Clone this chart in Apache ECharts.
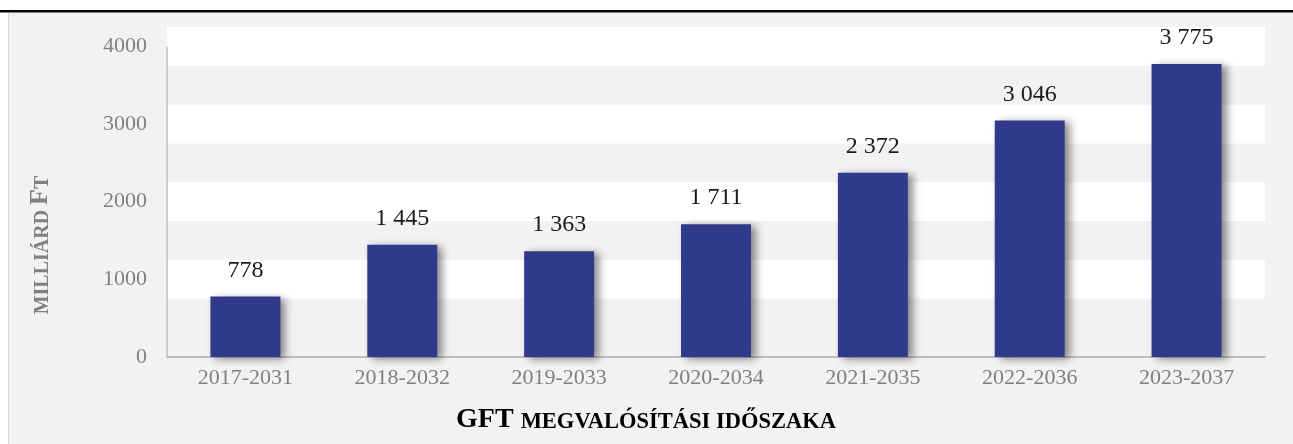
<!DOCTYPE html>
<html>
<head>
<meta charset="utf-8">
<script src="https://cdn.jsdelivr.net/npm/echarts@6/dist/echarts.min.js"></script>
<style>
html,body{margin:0;padding:0;background:#ffffff;}
#chart{width:1293px;height:444px;}
</style>
</head>
<body>
<div id="chart"></div>
<script>
var categories = ['2017-2031','2018-2032','2019-2033','2020-2034','2021-2035','2022-2036','2023-2037'];
var values = [778, 1445, 1363, 1711, 2372, 3046, 3775];
var yTicks = [0, 1000, 2000, 3000, 4000];
var yName = 'Milliárd Ft';
var xName = 'GFT megvalósítási időszaka';

function fmt(v){ return String(v).replace(/\B(?=(\d{3})+(?!\d))/g, ' '); }

// white bands centred on each non-zero gridline
var bands = yTicks.filter(function(t){return t>0;}).map(function(t){
  return [{yAxis: t - 250}, {yAxis: t + 250}];
});
var yTop = yTicks[yTicks.length-1];
// value-axis line runs from 0 to the top tick
var axisLineData = [[0, yTicks[0]], [0, yTop]];

var chart = echarts.init(document.getElementById('chart'), null, {renderer:'canvas'});
var serif = '"Liberation Serif", "DejaVu Serif", serif';

chart.setOption({
  animation: false,
  backgroundColor: 'transparent',
  graphic: [
    {type:'rect', z:-10, shape:{x:0,y:10,width:1293,height:2.5}, style:{fill:'#000000'}},
    {type:'rect', z:-10, shape:{x:8,y:13,width:1285,height:431}, style:{fill:'#f2f2f2'}},
    {type:'line', z:-9, shape:{x1:8.5,y1:13,x2:8.5,y2:444}, style:{stroke:'#d9d9d9', lineWidth:1}},
    {type:'text', z:10, x:40, y:245, rotation:Math.PI/2,
      style:{text:'{s|MILLIÁRD }{b|F}{s|T}', align:'center', verticalAlign:'middle',
        rich:{
          s:{fontFamily:serif, fontWeight:'bold', fontSize:20, fill:'#808080', verticalAlign:'bottom'},
          b:{fontFamily:serif, fontWeight:'bold', fontSize:26, fill:'#808080', verticalAlign:'bottom'}
        }}},
    {type:'text', z:10, x:646, y:420,
      style:{text:'{b|GFT }{s|MEGVALÓSÍTÁSI IDŐSZAKA}', align:'center', verticalAlign:'middle',
        rich:{
          s:{fontFamily:serif, fontWeight:'bold', fontSize:22.5, fill:'#000000', verticalAlign:'bottom'},
          b:{fontFamily:serif, fontWeight:'bold', fontSize:28, fill:'#000000', verticalAlign:'bottom'}
        }}}
  ],
  grid: {left:167, right:28, top:27, bottom:87, containLabel:false},
  xAxis: [{
    type:'category',
    data: categories,
    z: 3,
    axisLine:{show:true, lineStyle:{color:'#bfbfbf', width:2}},
    axisTick:{show:false},
    axisLabel:{color:'#808080', fontFamily:serif, fontSize:22, margin:10}
  }, {
    type:'value', min:0, max:1, show:false
  }],
  yAxis: {
    type:'value',
    min:0, max:4250, interval:1000,
    axisLine:{show:false},
    axisTick:{show:false},
    splitLine:{show:false},
    axisLabel:{color:'#808080', fontFamily:serif, fontSize:22, margin:20, showMaxLabel:false,
      formatter:function(v){ return yTicks.indexOf(v) >= 0 ? String(v) : ''; }}
  },
  series: [
    {
      type:'line', data:[], z:-1, silent:true,
      markArea:{silent:true, z:-1, itemStyle:{color:'#ffffff'}, data: bands}
    },
    {
      type:'line', xAxisIndex:1, z:3, clip:false, silent:true,
      data: axisLineData, symbol:'none',
      lineStyle:{color:'#bfbfbf', width:1.5}
    },
    {
      type:'bar', z:5,
      data: values,
      barWidth:'44.6%',
      itemStyle:{color:'#2f3a8a', shadowColor:'rgba(0,0,0,0.45)', shadowBlur:8, shadowOffsetX:5, shadowOffsetY:2},
      label:{show:true, position:'top', distance:14, color:'#1a1a1a', fontFamily:serif, fontSize:24,
        formatter:function(p){ return fmt(p.value); }}
    }
  ]
});
</script>
</body>
</html>
